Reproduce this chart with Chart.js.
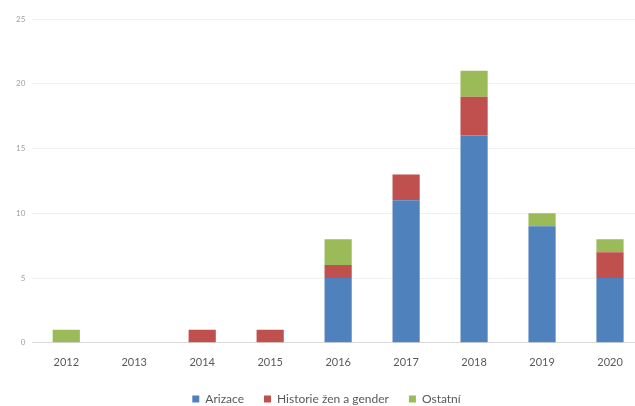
<!DOCTYPE html>
<html>
<head>
<meta charset="utf-8">
<script src="https://cdn.jsdelivr.net/npm/chart.js@4/dist/chart.umd.min.js"></script>
<style>
    html, body { margin: 0; padding: 0; background: #fff; overflow: hidden; }
    .wrap { position: absolute; left: 0; top: 0; width: 660px; height: 406px; }
</style>
</head>
<body>
<div class="wrap"><canvas id="chart"></canvas></div>
<script>
const years = ['2012', '2013', '2014', '2015', '2016', '2017', '2018', '2019', '2020'];
const arizace = [0, 0, 0, 0, 5, 11, 16, 9, 5];
const historie = [0, 0, 1, 1, 1, 2, 3, 0, 2];
const ostatni = [1, 0, 0, 0, 2, 0, 2, 1, 1];

const fontFamily = 'Lato, "Liberation Sans", sans-serif';

// labels.padding sets both the gap between items and the space above them;
// keep the wide gap but take back some of the vertical room
const legendTighten = {
    id: 'legendTighten',
    afterInit(chart) {
        const legend = chart.legend;
        const fit = legend.fit;
        legend.fit = function () { fit.call(this); this.height -= 9; };
        const draw = legend.draw;
        legend.draw = function () { this.top -= 9; draw.call(this); this.top += 9; };
    }
};

const ctx = document.getElementById('chart').getContext('2d');
new Chart(ctx, {
    type: 'bar',
    data: {
        labels: years,
        datasets: [
            { label: 'Arizace', data: arizace, backgroundColor: '#4f81bd' },
            { label: 'Historie žen a gender', data: historie, backgroundColor: '#c0504d' },
            { label: 'Ostatní', data: ostatni, backgroundColor: '#9bbb59' }
        ]
    },
    options: {
        responsive: true,
        maintainAspectRatio: false,
        animation: false,
        devicePixelRatio: 1,
        categoryPercentage: 1,
        barPercentage: 0.4,
        layout: { padding: { left: 9, right: 16, top: 19, bottom: -9 } },
        plugins: {
            tooltip: { enabled: false },
            legend: {
                position: 'bottom',
                labels: {
                    boxWidth: 7,
                    boxHeight: 7,
                    padding: 20,
                    color: '#595959',
                    font: { family: fontFamily, size: 12 }
                }
            }
        },
        scales: {
            x: {
                stacked: true,
                grid: { display: false, drawTicks: false },
                border: { display: true, color: '#d9d9d9' },
                ticks: { color: '#595959', padding: 13, font: { family: fontFamily, size: 11 } }
            },
            y: {
                stacked: true,
                min: 0,
                max: 25,
                grid: { color: '#efefef', drawTicks: false },
                border: { display: false },
                ticks: { stepSize: 5, color: '#a0a0a0', padding: 7, font: { family: fontFamily, size: 8 } }
            }
        }
    },
    plugins: [legendTighten]
});
</script>
</body>
</html>
